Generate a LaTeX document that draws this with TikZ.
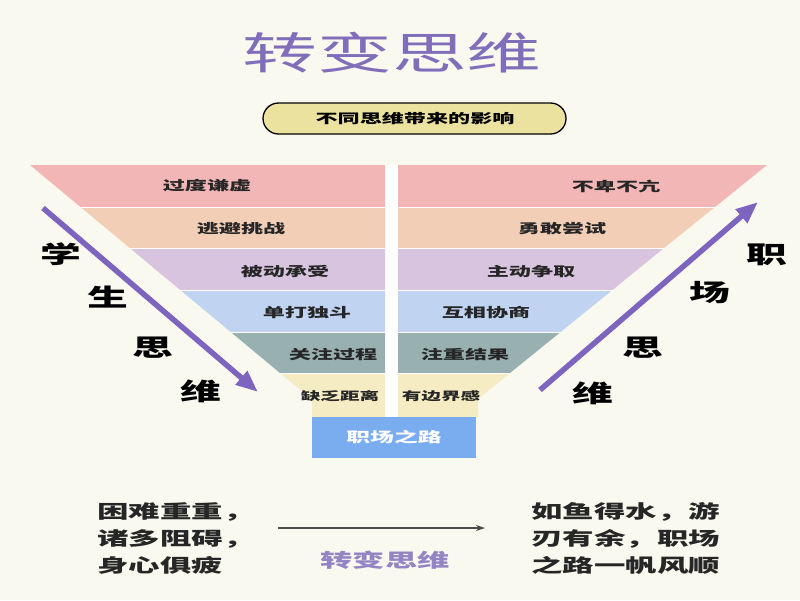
\documentclass[tikz,border=0pt]{standalone}
\usepackage{fontspec}
\usepackage{graphicx}
\usetikzlibrary{arrows.meta}
\newfontfamily\cjk{Noto Sans CJK SC}
\newcommand{\hstretch}[1]{\scalebox{1.7}[1]{#1}}
\definecolor{bgcream}{RGB}{250,249,240}
\definecolor{titlepurple}{RGB}{128,110,186}
\definecolor{arrowpurple}{RGB}{125,100,190}
\definecolor{pillyellow}{RGB}{236,226,160}
\definecolor{bandpink}{RGB}{242,182,182}
\definecolor{bandpeach}{RGB}{242,206,182}
\definecolor{bandlilac}{RGB}{216,196,222}
\definecolor{bandblue}{RGB}{192,212,242}
\definecolor{bandteal}{RGB}{152,176,176}
\definecolor{bandcream}{RGB}{246,236,196}
\definecolor{roadblue}{RGB}{122,172,240}

\begin{document}
\begin{tikzpicture}[x=1pt, y=-1pt,
  every node/.style={font=\cjk, inner sep=0pt},
  bandtext/.style={font=\cjk\fontsize{13}{15}\selectfont\bfseries, text=black!85},
  smalltext/.style={font=\cjk\fontsize{11.5}{13}\selectfont\bfseries, text=black!85},
  sidechar/.style={font=\cjk\fontsize{24}{26}\selectfont\bfseries, text=black},
  bottomtext/.style={font=\cjk\fontsize{18.5}{27}\selectfont\bfseries, text=black!85, align=left},
  thinkarrow/.style={line width=5.5pt, draw=arrowpurple, -{Triangle[length=22pt,width=17pt]}}]
  % background
  \useasboundingbox (0,0) rectangle (800,600);
  \fill[bgcream] (0,0) rectangle (800,600);

  % title and pill
  \node[font=\cjk\fontsize{44}{46}\selectfont, text=titlepurple] (title) at (392,53) {\hstretch{转变思维}};
  \draw[line width=1.3pt, fill=pillyellow, rounded corners=15.5pt] (263,103) rectangle (566,134);
  \node[font=\cjk\fontsize{13}{15}\selectfont\bfseries] (pill) at (415,119) {\hstretch{不同思维带来的影响}};

  % center gap
  \fill[white] (385,165) rectangle (398,417);

  % left funnel bands
  \fill[bandpink]  (30,165) -- (385,165) -- (385,207) -- (80.5,207) -- cycle;
  \fill[bandpeach] (80.5,207) -- (385,207) -- (385,248) -- (129.8,248) -- cycle;
  \fill[bandlilac] (129.8,248) -- (385,248) -- (385,290) -- (180.2,290) -- cycle;
  \fill[bandblue]  (180.2,290) -- (385,290) -- (385,332) -- (230.7,332) -- cycle;
  \fill[bandteal]  (230.7,332) -- (385,332) -- (385,373) -- (280,373) -- cycle;
  \fill[bandcream] (280,373) -- (385,373) -- (385,417) -- (312,417) -- (312,399.6) -- cycle;

  % right funnel bands
  \fill[bandpink]  (398,165) -- (767,165) -- (715,207) -- (398,207) -- cycle;
  \fill[bandpeach] (398,207) -- (715,207) -- (664,248) -- (398,248) -- cycle;
  \fill[bandlilac] (398,248) -- (664,248) -- (612.5,290) -- (398,290) -- cycle;
  \fill[bandblue]  (398,290) -- (612.5,290) -- (560.6,332) -- (398,332) -- cycle;
  \fill[bandteal]  (398,332) -- (560.6,332) -- (510,373) -- (398,373) -- cycle;
  \fill[bandcream] (398,373) -- (510,373) -- (478,399) -- (478,417) -- (398,417) -- cycle;

  % thin separators
  \foreach \y/\l/\r in {207/80.5/715, 248/129.8/664, 290/180.2/612.5, 332/230.7/560.6, 373/280/510}
    \draw[white, line width=0.8pt] (\l,\y) -- (385,\y) (398,\y) -- (\r,\y);

  % road box
  \fill[roadblue] (312,417) rectangle (476,458);
  \node[font=\cjk\fontsize{14}{16}\selectfont\bfseries, text=white] (road) at (394,437.5) {\hstretch{职场之路}};

  % band labels, student side
  \node[bandtext] (s1) at (207,186) {\hstretch{过度谦虚}};
  \node[bandtext] (s2) at (241,229) {\hstretch{逃避挑战}};
  \node[bandtext] (s3) at (285,272) {\hstretch{被动承受}};
  \node[bandtext] (s4) at (307,313) {\hstretch{单打独斗}};
  \node[bandtext] (s5) at (333,355) {\hstretch{关注过程}};
  \node[smalltext] (s6) at (340,396) {\hstretch{缺乏距离}};

  % band labels, workplace side
  \node[bandtext] (w1) at (616,186) {\hstretch{不卑不亢}};
  \node[bandtext] (w2) at (562,229) {\hstretch{勇敢尝试}};
  \node[bandtext] (w3) at (531,272) {\hstretch{主动争取}};
  \node[bandtext] (w4) at (486,313) {\hstretch{互相协商}};
  \node[bandtext] (w5) at (465,355) {\hstretch{注重结果}};
  \node[smalltext] (w6) at (441,396) {\hstretch{有边界感}};

  % side words
  \node[sidechar] (xue)  at (61,254)  {\hstretch{学}};
  \node[sidechar] (sheng) at (108,297) {\hstretch{生}};
  \node[sidechar] (si1)  at (153,348) {\hstretch{思}};
  \node[sidechar] (wei1) at (201,391) {\hstretch{维}};
  \node[sidechar] (zhi)  at (767,255) {\hstretch{职}};
  \node[sidechar] (chang) at (710,293) {\hstretch{场}};
  \node[sidechar] (si2)  at (643,348) {\hstretch{思}};
  \node[sidechar] (wei2) at (593,393) {\hstretch{维}};

  % purple arrows
  \coordinate (ls) at (43,208);
  \coordinate (le) at (258,392);
  \coordinate (rs) at (540,390);
  \coordinate (re) at (758,202);
  \draw[thinkarrow] (ls) -- (le);
  \draw[thinkarrow] (rs) -- (re);

  % bottom comparison
  \node[bottomtext, anchor=west] (before) at (97,540)
    {\hstretch{\begin{tabular}{@{}l@{}}困难重重，\\诸多阻碍，\\身心俱疲\end{tabular}}};
  \node[bottomtext, anchor=west] (after) at (531,540)
    {\hstretch{\begin{tabular}{@{}l@{}}如鱼得水，游\\刃有余，职场\\之路一帆风顺\end{tabular}}};
  \coordinate (as) at (278,528);
  \coordinate (ae) at (485,528);
  \draw[black!70, line width=1.2pt, -{Stealth[length=9pt,width=6pt]}] (as) -- (ae);
  \node[font=\cjk\fontsize{19}{21}\selectfont\bfseries, text=titlepurple!85] (turn) at (385,560) {\hstretch{转变思维}};
\end{tikzpicture}
\end{document}
